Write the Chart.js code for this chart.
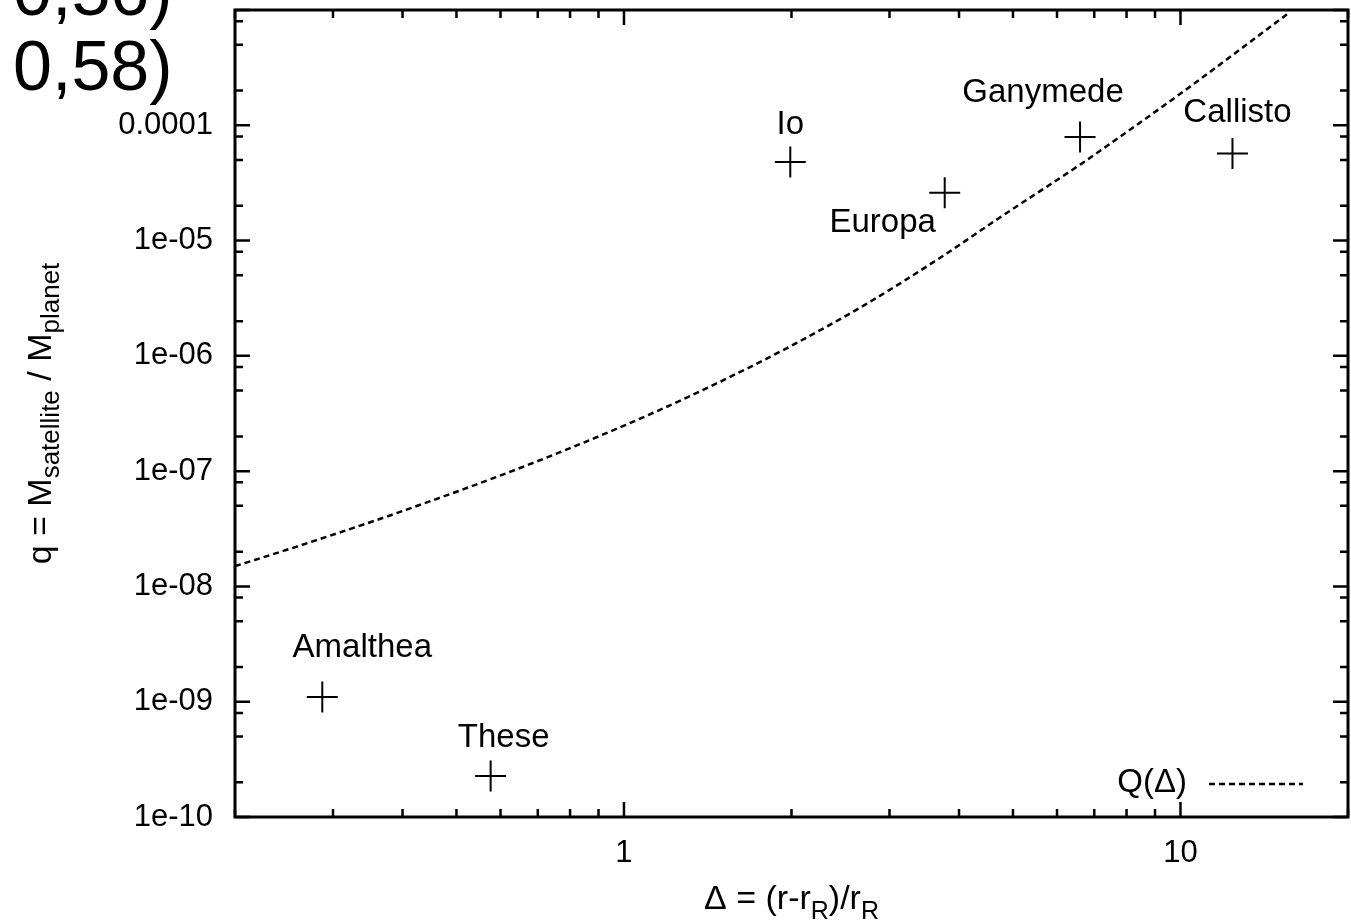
<!DOCTYPE html>
<html>
<head>
<meta charset="utf-8">
<title>q vs Delta</title>
<script src="https://cdn.jsdelivr.net/npm/chart.js@4/dist/chart.umd.min.js"></script>
<style>
  html, body { margin: 0; padding: 0; background: #fff; overflow: hidden; }
  #wrap { position: relative; width: 1351px; height: 921px; }
</style>
</head>
<body>
<div id="wrap"><canvas id="chart" width="1351" height="921"></canvas></div>
<script>
// Satellites: Delta = (r-rR)/rR and q = Msat/Mplanet
const satNames = ['Amalthea', 'These', 'Io', 'Europa', 'Ganymede', 'Callisto'];
const satDelta = [0.287, 0.576, 1.99, 3.77, 6.6, 12.4];
const satQ = [1.1e-9, 2.27e-10, 4.8e-5, 2.6e-5, 7.9e-5, 5.7e-5];

// Q(Delta) curve
const curveDelta = [0.2, 0.263, 0.397, 0.652, 1.0, 1.372, 1.99, 2.77, 3.70, 4.75, 6.62, 7.27, 10.1, 15.6];
const curveQ = [1.5e-8, 2.28e-8, 4.45e-8, 1.07e-7, 2.48e-7, 4.94e-7, 1.21e-6, 2.95e-6, 7.1e-6, 1.6e-5, 4.6e-5, 6.3e-5, 1.95e-4, 9.3e-4];

// axes
const xRange = [0.2, 20];
const yRange = [1e-10, 1e-3];
const xTickVals = [1, 10];
const xTickLabels = ['1', '10'];
const yTickVals = [1e-10, 1e-9, 1e-8, 1e-7, 1e-6, 1e-5, 1e-4];
const yTickLabels = ['1e-10', '1e-09', '1e-08', '1e-07', '1e-06', '1e-05', '0.0001'];
const xMinorSteps = [2, 3, 4, 5, 6, 7, 8, 9];
const yMinorSteps = [2, 5, 8];

// where each name sits relative to its cross (px)
const labelOffsets = [[40, -49], [13, -38], [0, -37], [-62, 30], [-37, -44], [5, -41]];

const FONT = "'Liberation Sans', Arial, Helvetica, sans-serif";

function labelFor(vals, labels, v) {
    const i = vals.findIndex(t => Math.abs(Math.log10(t) - Math.log10(v)) < 1e-6);
    return i >= 0 ? labels[i] : '';
}

// draws a string made of normal and subscript pieces, centred on x
function drawRich(ctx, parts, x, y, size, subSize, subDrop) {
    let total = 0;
    parts.forEach(p => {
        ctx.font = (p.sub ? subSize : size) + 'px ' + FONT;
        p.w = ctx.measureText(p.t).width;
        total += p.w;
    });
    let cx = x - total / 2;
    ctx.textAlign = 'left';
    ctx.textBaseline = 'alphabetic';
    parts.forEach(p => {
        ctx.font = (p.sub ? subSize : size) + 'px ' + FONT;
        ctx.fillText(p.t, cx, p.sub ? y + subDrop : y);
        cx += p.w;
    });
}

// keep the plot box where the figure has it: no room kept for label overhang
function noOverhang(s) {
    s.paddingTop = 0;
    s.paddingBottom = 0;
    s.paddingLeft = 0;
    s.paddingRight = 0;
}

const framePlugin = {
    id: 'frame',
    afterDraw(chart) {
        const ctx = chart.ctx;
        const a = chart.chartArea;
        const xs = chart.scales.x;
        const ys = chart.scales.y;
        ctx.save();
        ctx.strokeStyle = '#000';
        ctx.fillStyle = '#000';

        // frame
        ctx.lineWidth = 3;
        ctx.strokeRect(a.left, a.top, a.right - a.left, a.bottom - a.top);

        // tick marks, pointing in, on all four sides
        ctx.lineWidth = 2.5;
        ctx.beginPath();
        for (let e = -1; e <= 1; e++) {
            [1].concat(xMinorSteps).forEach(m => {
                const v = m * Math.pow(10, e);
                if (v < xRange[0] || v > xRange[1]) return;
                const px = xs.getPixelForValue(v);
                const len = m === 1 ? 15 : 8;
                ctx.moveTo(px, a.bottom); ctx.lineTo(px, a.bottom - len);
                ctx.moveTo(px, a.top); ctx.lineTo(px, a.top + len);
            });
        }
        for (let e = -10; e <= -3; e++) {
            [1].concat(yMinorSteps).forEach(m => {
                const v = m * Math.pow(10, e);
                if (v < yRange[0] || v > yRange[1]) return;
                const py = ys.getPixelForValue(v);
                const len = m === 1 ? 15 : 8;
                ctx.moveTo(a.left, py); ctx.lineTo(a.left + len, py);
                ctx.moveTo(a.right, py); ctx.lineTo(a.right - len, py);
            });
        }
        ctx.stroke();

        // names next to the crosses
        ctx.font = '33px ' + FONT;
        ctx.textAlign = 'center';
        ctx.textBaseline = 'middle';
        satNames.forEach((name, i) => {
            const px = xs.getPixelForValue(satDelta[i]);
            const py = ys.getPixelForValue(satQ[i]);
            ctx.fillText(name, px + labelOffsets[i][0], py + labelOffsets[i][1]);
        });

        // key
        ctx.textAlign = 'right';
        ctx.fillText('Q(\u0394)', a.right - 161, a.bottom - 34);
        ctx.lineWidth = 2.5;
        ctx.setLineDash([6, 4]);
        ctx.beginPath();
        ctx.moveTo(a.right - 139, a.bottom - 33);
        ctx.lineTo(a.right - 45, a.bottom - 33);
        ctx.stroke();
        ctx.setLineDash([]);

        // axis titles
        const midX = (a.left + a.right) / 2;
        drawRich(ctx, [{t: '\u0394 = (r-r'}, {t: 'R', sub: true}, {t: ')/r'}, {t: 'R', sub: true}],
            midX, 909, 34, 25, 10);

        ctx.save();
        ctx.translate(51, (a.top + a.bottom) / 2);
        ctx.rotate(-Math.PI / 2);
        drawRich(ctx, [{t: 'q = M'}, {t: 'satellite', sub: true}, {t: ' / M'}, {t: 'planet', sub: true}],
            0, 0, 34, 26, 8);
        ctx.restore();

        // leftover text from the page the figure was cut from
        ctx.font = '70px ' + FONT;
        ctx.textAlign = 'left';
        ctx.textBaseline = 'alphabetic';
        ctx.fillText('0,56)', 13, 15);
        ctx.fillText('0,58)', 13, 90);

        ctx.restore();
    }
};

new Chart(document.getElementById('chart'), {
    type: 'scatter',
    data: {
        datasets: [
            {
                label: 'Q(\u0394)',
                data: curveDelta.map((d, i) => ({x: d, y: curveQ[i]})),
                showLine: true,
                borderColor: '#000',
                borderWidth: 2.5,
                borderDash: [6, 4],
                pointRadius: 0,
                cubicInterpolationMode: 'monotone',
                fill: false
            },
            {
                label: 'satellites',
                data: satDelta.map((d, i) => ({x: d, y: satQ[i]})),
                showLine: false,
                pointStyle: 'cross',
                pointRadius: 15.5,
                pointBorderWidth: 2,
                borderColor: '#000',
                backgroundColor: '#000'
            }
        ]
    },
    options: {
        responsive: false,
        animation: false,
        layout: { autoPadding: false, padding: { top: 10, right: 3, left: 0, bottom: 0 } },
        plugins: { legend: { display: false }, tooltip: { enabled: false } },
        scales: {
            x: {
                type: 'logarithmic',
                position: 'bottom',
                min: xRange[0],
                max: xRange[1],
                grid: { display: false, drawTicks: false, tickLength: 0 },
                border: { display: false },
                afterBuildTicks: s => { s.ticks = xTickVals.map(v => ({value: v})); },
                afterFit: s => { s.height = 104; noOverhang(s); },
                ticks: {
                    autoSkip: false,
                    maxRotation: 0,
                    padding: 18,
                    color: '#000',
                    font: { family: FONT, size: 31 },
                    callback: v => labelFor(xTickVals, xTickLabels, v)
                }
            },
            y: {
                type: 'logarithmic',
                position: 'left',
                min: yRange[0],
                max: yRange[1],
                grid: { display: false, drawTicks: false, tickLength: 0 },
                border: { display: false },
                afterBuildTicks: s => { s.ticks = yTickVals.map(v => ({value: v})); },
                afterFit: s => { s.width = 235; noOverhang(s); },
                ticks: {
                    autoSkip: false,
                    padding: 22,
                    color: '#000',
                    font: { family: FONT, size: 31 },
                    callback: v => labelFor(yTickVals, yTickLabels, v)
                }
            }
        }
    },
    plugins: [framePlugin]
});
</script>
</body>
</html>
